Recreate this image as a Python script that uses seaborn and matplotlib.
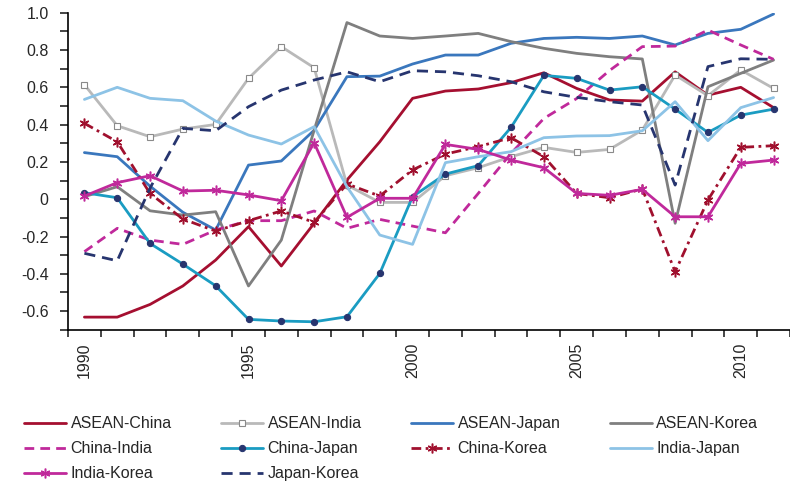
import numpy as np
import matplotlib
matplotlib.use("Agg")
import matplotlib.pyplot as plt
import seaborn as sns

years = list(range(1990, 2012))

asean_china = [-0.632, -0.632, -0.564, -0.465, -0.326, -0.147, -0.358, -0.129, 0.103, 0.308,
               0.541, 0.580, 0.591, 0.625, 0.678, 0.594, 0.532, 0.526, 0.683, 0.558, 0.600, 0.491]
asean_india = [0.614, 0.394, 0.335, 0.376, 0.401, 0.648, 0.818, 0.705, 0.076, -0.017,
               -0.017, 0.126, 0.169, 0.228, 0.278, 0.251, 0.267, 0.371, 0.666, 0.555, 0.693, 0.594]
asean_japan = [0.250, 0.228, 0.070, -0.070, -0.165, 0.183, 0.205, 0.370, 0.657, 0.660,
               0.725, 0.773, 0.773, 0.836, 0.862, 0.868, 0.862, 0.875, 0.827, 0.889, 0.911, 0.993]
asean_korea = [0.014, 0.067, -0.062, -0.085, -0.067, -0.465, -0.219, 0.370, 0.947, 0.875,
               0.862, 0.875, 0.889, 0.845, 0.809, 0.782, 0.764, 0.752, -0.129, 0.603, 0.675, 0.746]
china_india = [-0.281, -0.156, -0.219, -0.242, -0.165, -0.115, -0.115, -0.063, -0.156, -0.108,
               -0.144, -0.180, 0.031, 0.246, 0.433, 0.540, 0.690, 0.818, 0.821, 0.907, 0.827, 0.750]
china_japan = [0.035, 0.008, -0.237, -0.348, -0.464, -0.644, -0.653, -0.657, -0.630, -0.398,
               0.014, 0.135, 0.180, 0.385, 0.664, 0.648, 0.585, 0.603, 0.483, 0.358, 0.451, 0.483]
china_korea = [0.407, 0.308, 0.031, -0.106, -0.171, -0.115, -0.063, -0.124, 0.082, 0.017,
               0.157, 0.242, 0.282, 0.330, 0.228, 0.031, 0.008, 0.055, -0.389, -0.004, 0.278, 0.287]
india_japan = [0.535, 0.600, 0.541, 0.528, 0.419, 0.344, 0.296, 0.389, 0.067, -0.192,
               -0.242, 0.196, 0.228, 0.255, 0.330, 0.339, 0.341, 0.367, 0.523, 0.314, 0.491, 0.545]
india_korea = [0.017, 0.089, 0.126, 0.044, 0.048, 0.023, -0.008, 0.303, -0.097, 0.005,
               0.005, 0.294, 0.267, 0.210, 0.169, 0.031, 0.021, 0.053, -0.094, -0.094, 0.192, 0.210]
japan_korea = [-0.290, -0.330, 0.060, 0.380, 0.367, 0.496, 0.585, 0.639, 0.683, 0.630,
               0.689, 0.683, 0.662, 0.630, 0.576, 0.546, 0.523, 0.505, 0.076, 0.711, 0.753, 0.750]

sns.set_style("ticks")
plt.rcParams["font.family"] = ["Liberation Sans", "DejaVu Sans"]
plt.rcParams["axes.unicode_minus"] = False

fig = plt.figure(figsize=(7.9, 4.84), dpi=100)
ax = fig.add_axes([68 / 790, 1 - 329.8 / 484, 1 - 68 / 790, (329.8 - 12.7) / 484])

asterisk = (6, 2, 0)
# name, values, colour, linestyle, marker options
series = [
    ("ASEAN-China", asean_china, "#a50f30", "-", {}),
    ("ASEAN-India", asean_india, "#b9b9b9", "-",
     dict(marker="s", markersize=4.5, markerfacecolor="white", markeredgecolor="#8a8a8a", markeredgewidth=0.8)),
    ("ASEAN-Japan", asean_japan, "#3a77bd", "-", {}),
    ("ASEAN-Korea", asean_korea, "#7f7f7f", "-", {}),
    ("China-India", china_india, "#c0299b", (0, (3.5, 2.2)), {}),
    ("China-Japan", china_japan, "#1a9cc2", "-",
     dict(marker="o", markersize=4.5, markerfacecolor="#27356f", markeredgecolor="#27356f")),
    ("China-Korea", china_korea, "#a0102e", (0, (3.5, 1.6, 1, 1.6)),
     dict(marker=asterisk, markersize=7, markeredgewidth=1.1, markeredgecolor="#a0102e")),
    ("India-Japan", india_japan, "#8dc3e6", "-", {}),
    ("India-Korea", india_korea, "#c0299b", "-",
     dict(marker=asterisk, markersize=7, markeredgewidth=1.1, markeredgecolor="#c0299b")),
    ("Japan-Korea", japan_korea, "#27356f", (0, (4, 2.5)), {}),
]

for name, vals, col, ls, mk in series:
    sns.lineplot(x=years, y=vals, ax=ax, color=col, linestyle=ls, lw=2.0,
                 label=name, **mk)

ax.set_xlim(1989.5, 1989.5 + (790 - 68) / 33.0)
ax.set_ylim(-0.7, 1.0)

ax.set_xticks([1990, 1995, 2000, 2005, 2010])
ax.set_xticklabels(["1990", "1995", "2000", "2005", "2010"], rotation=90)
ax.set_xticks(np.arange(1989.5, 2012, 1.0), minor=True)
ax.tick_params(axis="x", which="major", length=0, pad=9, labelsize=11.5)
ax.tick_params(axis="x", which="minor", length=5, width=1.2, direction="out")

yt = [-0.6, -0.4, -0.2, 0, 0.2, 0.4, 0.6, 0.8, 1.0]
ax.set_yticks(yt)
ax.set_yticklabels(["-0.6", "-0.4", "-0.2", "0", "0.2", "0.4", "0.6", "0.8", "1.0"])
ax.set_yticks([-0.7, -0.5, -0.3, -0.1, 0.1, 0.3, 0.5, 0.7, 0.9], minor=True)
ax.tick_params(axis="y", which="both", length=6, width=1.2, direction="out")
ax.tick_params(axis="y", which="major", pad=8, labelsize=11.5)
ax.set_xlabel("")
ax.set_ylabel("")

for s in ["left", "bottom"]:
    ax.spines[s].set_linewidth(1.2)
    ax.spines[s].set_color("black")
sns.despine(ax=ax)

handles, labels = ax.get_legend_handles_labels()
ax.get_legend().remove()
order = ["ASEAN-China", "China-India", "India-Korea",
         "ASEAN-India", "China-Japan", "Japan-Korea",
         "ASEAN-Japan", "China-Korea",
         "ASEAN-Korea", "India-Japan"]
lookup = dict(zip(labels, handles))
fig.legend([lookup[k] for k in order], order, ncol=4, frameon=False,
           loc="upper left", bbox_to_anchor=(18 / 790, 1 - 410 / 484),
           fontsize=11.5, handlelength=2.6, handletextpad=0.3,
           columnspacing=3.1, labelspacing=0.62, borderaxespad=0)

fig.savefig("out.png", dpi=100)
